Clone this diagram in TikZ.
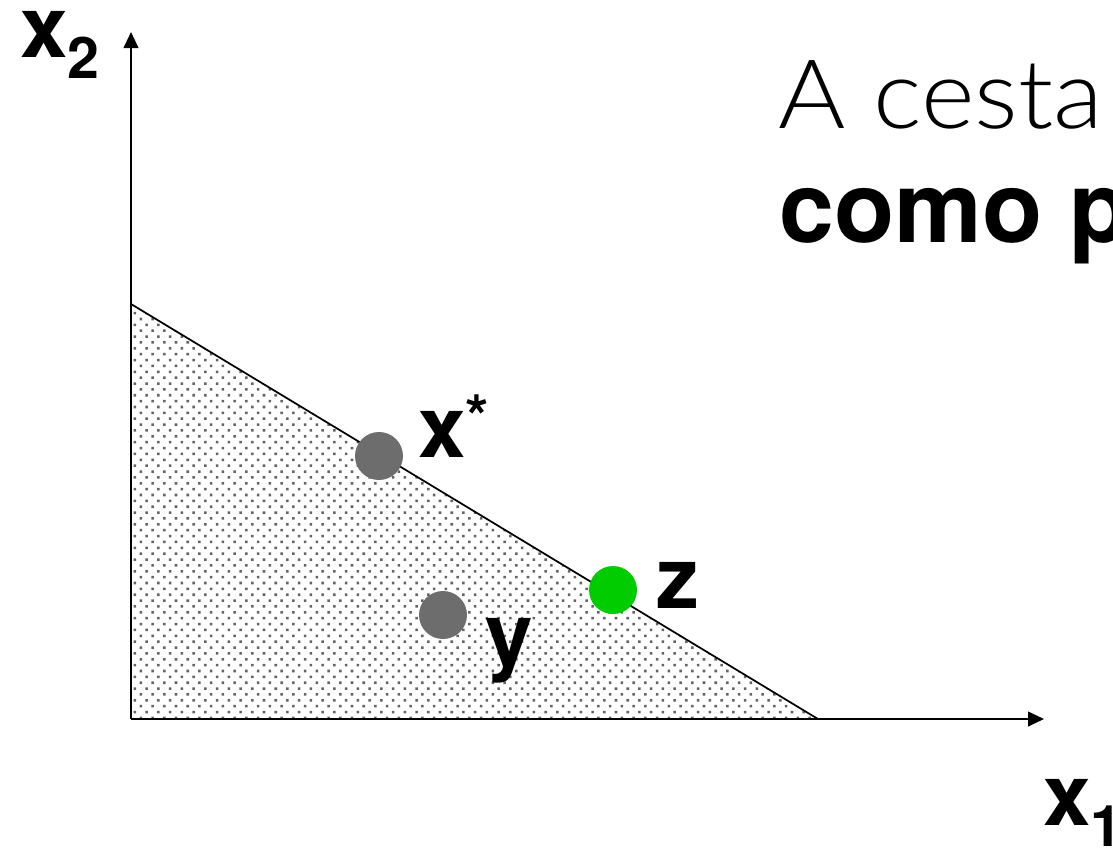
\documentclass[tikz,border=0pt]{standalone}
\usepackage{fontspec}
\setmainfont{TeX Gyre Heros}
\newfontfamily\lightfont[FakeStretch=1.07]{Lato Light}
\usetikzlibrary{arrows.meta, patterns, positioning}
\definecolor{bundlegray}{RGB}{109,109,109}
\definecolor{bundlegreen}{RGB}{0,204,0}
\definecolor{setgray}{RGB}{100,100,100}

% staggered dot fill for the budget set
\pgfdeclarepatternformonly{stagdots}{\pgfqpoint{-1pt}{-1pt}}{\pgfqpoint{9.8pt}{9.8pt}}{\pgfqpoint{8.8pt}{8.8pt}}{
  \pgfpathrectangle{\pgfqpoint{-0.95pt}{-0.95pt}}{\pgfqpoint{1.9pt}{1.9pt}}
  \pgfpathrectangle{\pgfqpoint{3.45pt}{3.45pt}}{\pgfqpoint{1.9pt}{1.9pt}}
  \pgfusepath{fill}
}

\begin{document}
\begin{tikzpicture}[
		x=0.75pt, y=-0.75pt,
		axis/.style={line width=1.5pt, -{Triangle[length=12pt, width=11pt]}},
		budget/.style={line width=1.3pt},
		bundle/.style={circle, fill=bundlegray, minimum size=36pt, inner sep=0pt},
		varlabel/.style={font=\fontsize{64}{64}\selectfont\bfseries, inner sep=0pt, anchor=base west},
		titlelight/.style={font=\fontsize{72}{72}\selectfont\lightfont, inner sep=0pt, anchor=base west},
		titlebold/.style={font=\fontsize{74}{74}\selectfont\bfseries, inner sep=0pt, anchor=base west}
	]
	\useasboundingbox (0,0) rectangle (1113,847);
	\clip (0,0) rectangle (1113,847);
	
	\coordinate (origin) at (131,719);
	\coordinate (ytip) at (131,32);
	\coordinate (xtip) at (1044,719);
	\coordinate (top) at (131,304);
	\coordinate (right) at (818,719);
	
	\fill[pattern=stagdots, pattern color=setgray] (origin) -- (top) -- (right) -- cycle;
	\draw[budget] (top) -- (right);
	\draw[axis] (origin) -- (ytip);
	\draw[axis] (origin) -- (xtip);
	
	\node[varlabel] (xtwo) at (20,57) {x\fontsize{43}{43}\selectfont\raisebox{-16pt}{2}};
	\node[varlabel] (xone) at (1043,825) {x\fontsize{43}{43}\selectfont\raisebox{-16pt}{1}};
	
	\node[bundle] (xstar) at (379,456) {};
	\node[bundle] (ybundle) at (443,615) {};
	\node[bundle, fill=bundlegreen] (zbundle) at (613,590) {};
	
	\node[varlabel] (xstarlab) at (418,457) {x\fontsize{45}{45}\selectfont\raisebox{14pt}{*}};
	\node[varlabel] (ylab) at (485,664) {y};
	\node[varlabel] (zlab) at (656,608) {z};
	
	\node[titlelight] (cesta) at (778,128) {A cesta};
	\node[titlebold] (como) at (779,242) {como p};
\end{tikzpicture}
\end{document}
